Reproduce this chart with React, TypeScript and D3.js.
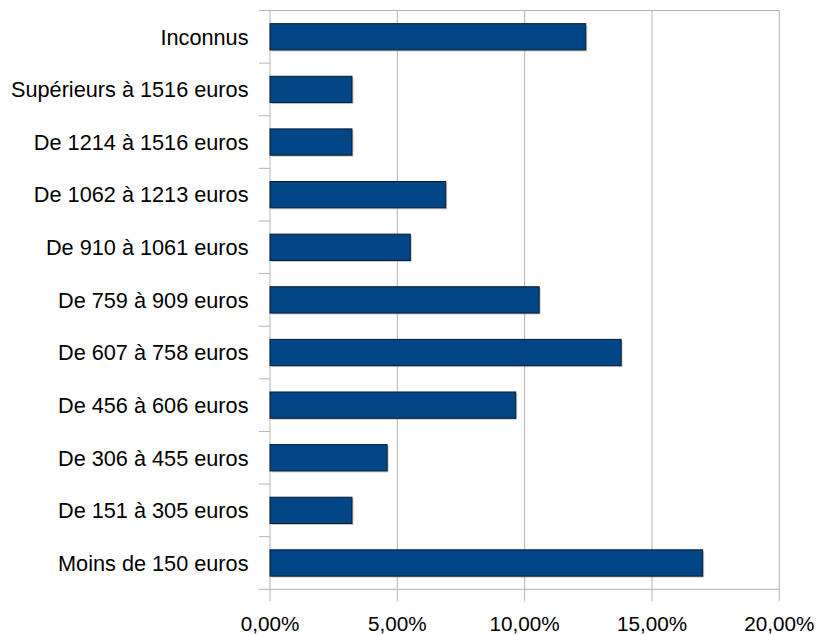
import React from "react";
import * as d3 from "d3";

const categories = [
  "Inconnus",
  "Supérieurs à 1516 euros",
  "De 1214 à 1516 euros",
  "De 1062 à 1213 euros",
  "De 910 à 1061 euros",
  "De 759 à 909 euros",
  "De 607 à 758 euros",
  "De 456 à 606 euros",
  "De 306 à 455 euros",
  "De 151 à 305 euros",
  "Moins de 150 euros",
];
const values = [12.4, 3.22, 3.22, 6.9, 5.51, 10.57, 13.79, 9.65, 4.6, 3.22, 16.99];
const xTicks = [0, 5, 10, 15, 20];

export default function App() {
  const W = 818, H = 635;
  const left = 270, right = 779.3, top = 10.5, bottom = 589.3;
  const x = d3.scaleLinear().domain([0, 20]).range([left, right]);
  const y = d3.scaleBand<string>().domain(categories).range([top, bottom]).paddingInner(0.5).paddingOuter(0.25);
  const band = d3.scaleBand<string>().domain(categories).range([top, bottom]);
  const fmt = (v: number) => v.toFixed(2).replace(".", ",") + "%";
  const grid = "#b3b3b3";
  const font = "'Liberation Sans', Arial, sans-serif";
  const fs = 20.7;
  const fsCat = 21.7;
  return (
    <svg width={W} height={H} style={{ position: "absolute", left: 0, top: 0, background: "#fff" }}>
      {xTicks.map((t) => (
        <g key={t}>
          <line x1={x(t)} x2={x(t)} y1={top} y2={bottom + 12} stroke={grid} strokeWidth={1} />
          <text x={x(t)} y={630.5} textAnchor="middle" fontFamily={font} fontSize={fs} fill="#000">
            {fmt(t)}
          </text>
        </g>
      ))}
      <line x1={left} x2={right} y1={top} y2={top} stroke={grid} />
      <line x1={left - 11} x2={right} y1={bottom} y2={bottom} stroke={grid} />
      {categories.map((c, i) => (
        <line key={"t" + i} x1={left - 11} x2={left} y1={band(c)!} y2={band(c)!} stroke={grid} />
      ))}
      {categories.map((c, i) => (
        <g key={c}>
          <rect x={x(0) + 1.5} y={y(c)! + 1.5} width={x(values[i]) - x(0)} height={y.bandwidth()} fill="#999" opacity={0.5} />
          <rect x={x(0)} y={y(c)!} width={x(values[i]) - x(0)} height={y.bandwidth()} fill="#004586" stroke="#0a1a2a" strokeWidth={1} />
          <text x={248.5} y={band(c)! + band.bandwidth() / 2} dy="0.36em" textAnchor="end" fontFamily={font} fontSize={fsCat} fill="#000">
            {c}
          </text>
        </g>
      ))}
    </svg>
  );
}
